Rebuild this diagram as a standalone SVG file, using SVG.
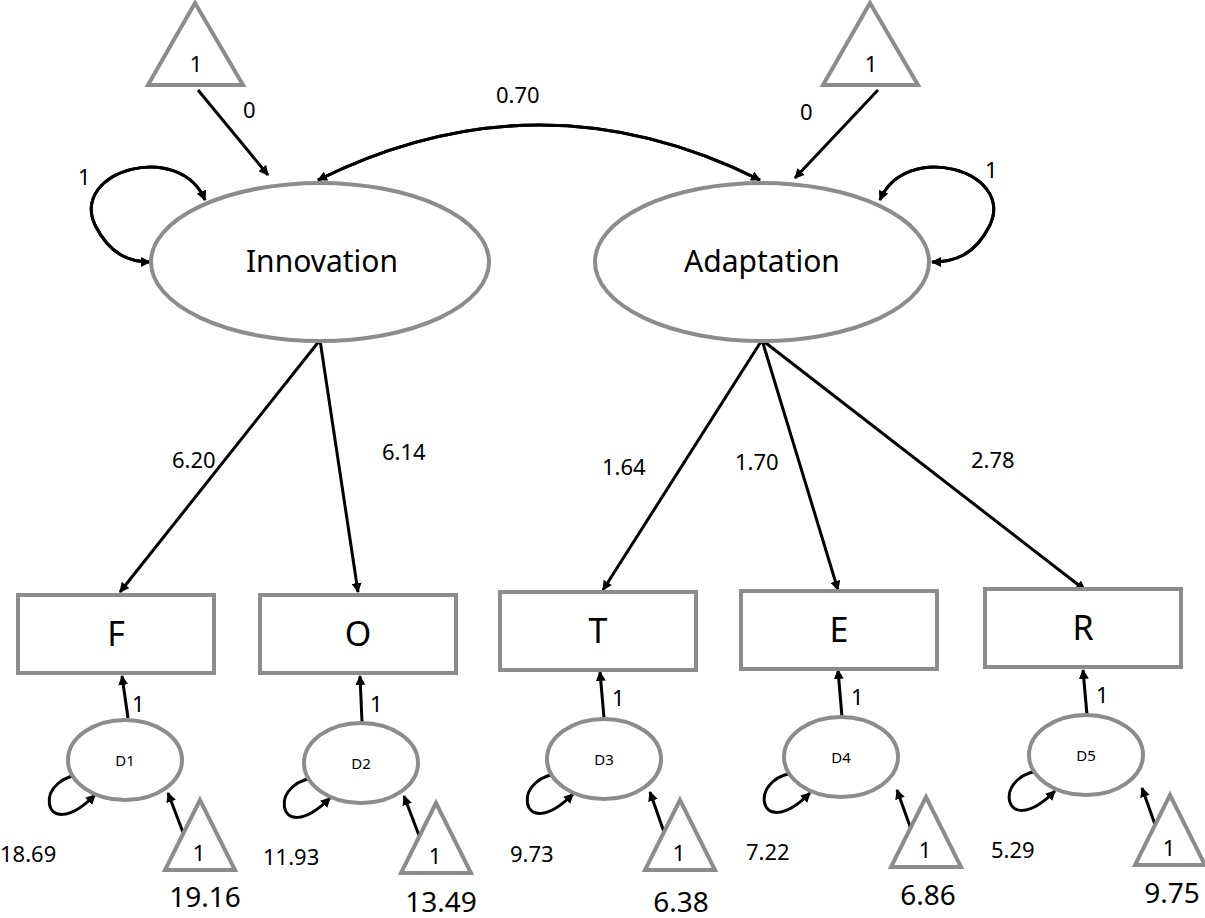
<svg xmlns="http://www.w3.org/2000/svg" width="1205" height="918" viewBox="0 0 1205 918">
<defs>
<marker id="ah" markerWidth="10" markerHeight="10" refX="9" refY="5" orient="auto" markerUnits="userSpaceOnUse"><path d="M0,0 L10,5 L0,10 z" fill="#000"/></marker>
<style>
.sh{fill:#fff;stroke:#8c8c8c;stroke-width:4}
.ln{fill:none;stroke:#000;stroke-width:3;marker-end:url(#ah)}
text{font-family:"Noto Sans","DejaVu Sans",sans-serif;fill:#000}
.l{font-size:22px}
.n{font-size:30px;text-anchor:middle}
.b{font-size:34px;text-anchor:middle}
.d{font-size:15px;text-anchor:middle}
.t{font-size:22px;text-anchor:middle}
.big{font-size:28px;text-anchor:middle}
</style>
</defs>
<rect width="1205" height="918" fill="#fff"/>
<g id="connectors">
<path class="ln" d="M198,90 L268,175"/>
<path class="ln" d="M878,90 L795,178"/>
<path class="ln" d="M760,180 Q540,70 318,180"/>
<path class="ln" d="M318,180 Q540,70 760,180"/>
<path class="ln" d="M205,200 C180,140 70,170 95,225 C110,255 130,262 150,262"/>
<path class="ln" d="M150,262 C130,262 110,255 95,225 C70,170 180,140 205,200"/>
<path class="ln" d="M880,200 C905,140 1015,170 990,225 C975,255 955,262 932,262"/>
<path class="ln" d="M932,262 C955,262 975,255 990,225 C1015,170 905,140 880,200"/>
<path class="ln" d="M320,340 L120,592"/>
<path class="ln" d="M320,340 L358,592"/>
<path class="ln" d="M762,340 L603,590"/>
<path class="ln" d="M762,340 L838,590"/>
<path class="ln" d="M762,340 L1085,590"/>
<path class="ln" d="M128,718 L122,676"/>
<path class="ln" d="M362,722 L360,676"/>
<path class="ln" d="M604,718 L600,672"/>
<path class="ln" d="M842,717 L838,670"/>
<path class="ln" d="M1087,715 L1083,670"/>
<path class="ln" d="M184,835 L168,793"/>
<path class="ln" d="M420,838 L404,796"/>
<path class="ln" d="M665,835 L650,792"/>
<path class="ln" d="M912,832 L897,790"/>
<path class="ln" d="M1157,830 L1142,788"/>
<path class="ln" d="M90,775 C30,770 40,850 95,795"/>
<path class="ln" d="M325,778 C265,773 275,853 330,798"/>
<path class="ln" d="M568,774 C508,769 518,849 573,794"/>
<path class="ln" d="M805,773 C745,768 755,848 810,793"/>
<path class="ln" d="M1050,771 C990,766 1000,846 1055,791"/>
</g>
<g id="tri1"><polygon class="sh" points="195,3 148,85 243,85"/><text class="t" x="196" y="72">1</text></g>
<g id="tri2"><polygon class="sh" points="870,3 823,85 918,85"/><text class="t" x="871" y="72">1</text></g>
<g id="innovation"><ellipse class="sh" cx="320" cy="262" rx="169" ry="79"/><text class="n" x="322" y="272">Innovation</text></g>
<g id="adaptation"><ellipse class="sh" cx="762" cy="262" rx="167" ry="79"/><text class="n" x="762" y="272">Adaptation</text></g>
<g id="F"><rect class="sh" x="18" y="595" width="196" height="78"/><text class="b" x="116" y="646">F</text></g>
<g id="O"><rect class="sh" x="260" y="595" width="196" height="78"/><text class="b" x="358" y="646">O</text></g>
<g id="T"><rect class="sh" x="500" y="592" width="196" height="78"/><text class="b" x="598" y="643">T</text></g>
<g id="E"><rect class="sh" x="741" y="591" width="196" height="78"/><text class="b" x="839" y="642">E</text></g>
<g id="R"><rect class="sh" x="985" y="589" width="196" height="78"/><text class="b" x="1083" y="640">R</text></g>
<g id="D1"><ellipse class="sh" cx="125" cy="760" rx="57" ry="40"/><text class="d" x="125" y="766">D1</text></g>
<g id="D2"><ellipse class="sh" cx="361" cy="763" rx="57" ry="40"/><text class="d" x="361" y="769">D2</text></g>
<g id="D3"><ellipse class="sh" cx="604" cy="759" rx="57" ry="40"/><text class="d" x="604" y="765">D3</text></g>
<g id="D4"><ellipse class="sh" cx="841" cy="757" rx="57" ry="40"/><text class="d" x="841" y="763">D4</text></g>
<g id="D5"><ellipse class="sh" cx="1086" cy="755" rx="57" ry="40"/><text class="d" x="1086" y="761">D5</text></g>
<g id="t1"><polygon class="sh" points="200,800 165,870 235,870"/><text class="t" x="199" y="861">1</text></g>
<g id="t2"><polygon class="sh" points="436,803 401,873 471,873"/><text class="t" x="435" y="864">1</text></g>
<g id="t3"><polygon class="sh" points="680,800 645,870 715,870"/><text class="t" x="679" y="861">1</text></g>
<g id="t4"><polygon class="sh" points="926,797 891,867 961,867"/><text class="t" x="925" y="858">1</text></g>
<g id="t5"><polygon class="sh" points="1170,795 1135,865 1205,865"/><text class="t" x="1169" y="856">1</text></g>
<g id="labels">
<text class="l" x="243" y="118">0</text>
<text class="l" x="800" y="120">0</text>
<text class="l" x="496" y="103">0.70</text>
<text class="l" x="78" y="185">1</text>
<text class="l" x="985" y="178">1</text>
<text class="l" x="172" y="468">6.20</text>
<text class="l" x="382" y="460">6.14</text>
<text class="l" x="602" y="475">1.64</text>
<text class="l" x="735" y="470">1.70</text>
<text class="l" x="971" y="468">2.78</text>
<text class="l" x="132" y="712">1</text>
<text class="l" x="370" y="712">1</text>
<text class="l" x="612" y="706">1</text>
<text class="l" x="851" y="705">1</text>
<text class="l" x="1096" y="703">1</text>
<text class="l" x="0" y="862">18.69</text>
<text class="l" x="263" y="865">11.93</text>
<text class="l" x="510" y="862">9.73</text>
<text class="l" x="746" y="860">7.22</text>
<text class="l" x="991" y="858">5.29</text>
<text class="big" x="205" y="907">19.16</text>
<text class="big" x="441" y="912">13.49</text>
<text class="big" x="681" y="912">6.38</text>
<text class="big" x="928" y="905">6.86</text>
<text class="big" x="1172" y="903">9.75</text>
</g>
</svg>
